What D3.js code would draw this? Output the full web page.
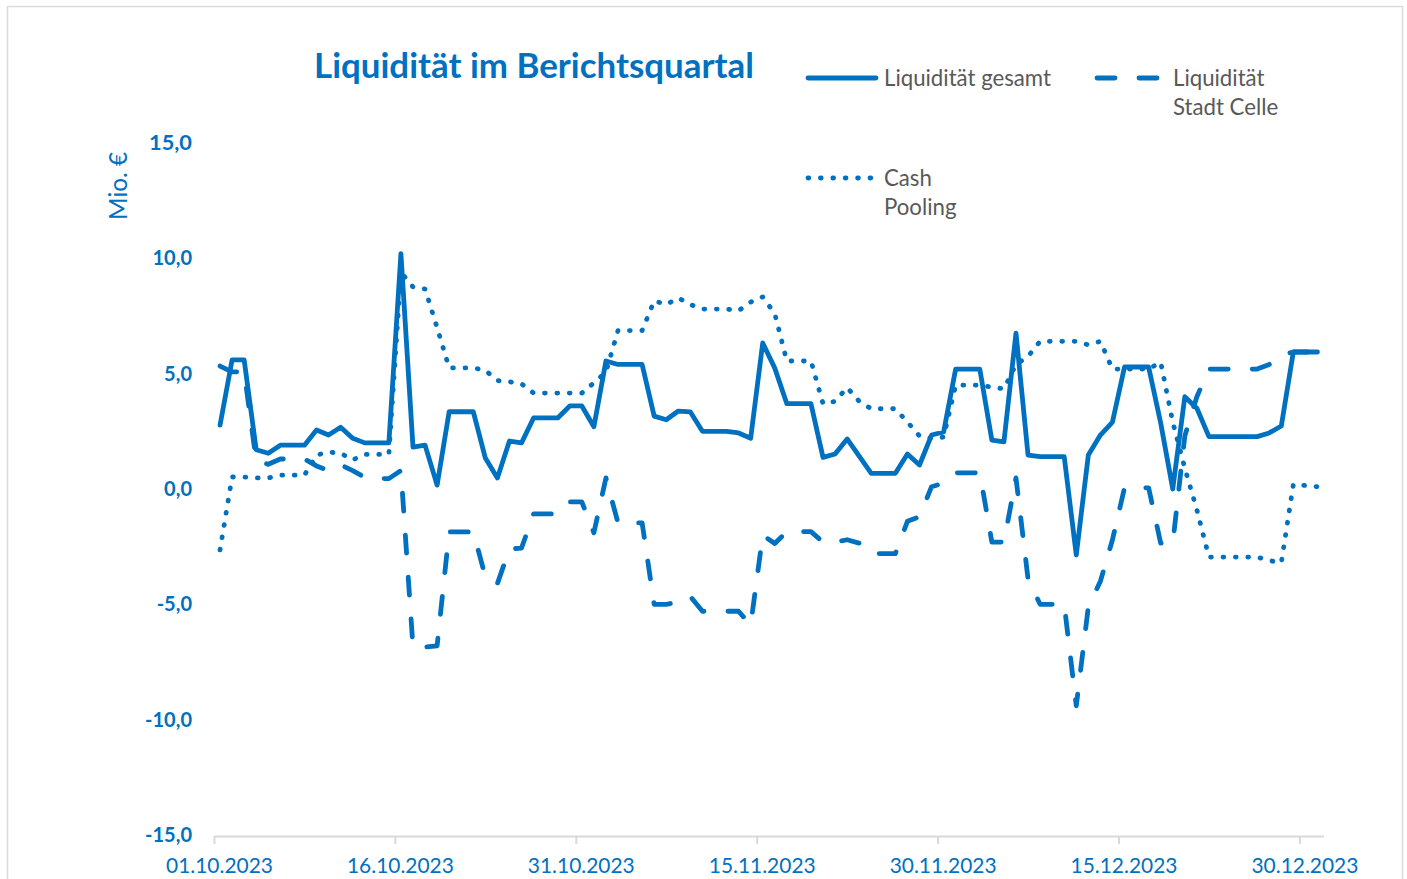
<!DOCTYPE html>
<html><head><meta charset="utf-8">
<script src="https://cdn.jsdelivr.net/npm/d3@7/dist/d3.min.js"></script>
<style>body{margin:0;background:#fff}svg{display:block}</style>
</head><body>
<svg id="chart" width="1407" height="879"></svg>
<script>
// ---------------- data ----------------
const startDate = "2023-10-01";
const endDate = "2024-01-01";
const title = "Liquidität im Berichtsquartal";
const yAxisLabel = "Mio. €";
const yTicks = [-15, -10, -5, 0, 5, 10, 15];
const xTickDates = ["2023-10-01", "2023-10-16", "2023-10-31", "2023-11-15", "2023-11-30", "2023-12-15", "2023-12-30"];
const seriesNames = ["Liquidität gesamt", "Liquidität Stadt Celle", "Cash Pooling"];

// daily values 01.10.2023 .. 31.12.2023 (Mio. €)
const gesamt = [
  2.77, 5.6, 5.6, 1.7, 1.55, 1.9, 1.9, 1.9, 2.56, 2.34,
  2.68, 2.2, 2.0, 2.0, 2.0, 10.2, 1.82, 1.9, 0.17, 3.35,
  3.35, 3.35, 1.34, 0.48, 2.08, 2.0, 3.08, 3.08, 3.08, 3.6,
  3.6, 2.7, 5.55, 5.4, 5.4, 5.4, 3.16, 3.0, 3.38, 3.34,
  2.5, 2.5, 2.5, 2.43, 2.2, 6.33, 5.24, 3.7, 3.7, 3.7,
  1.37, 1.52, 2.17, 1.43, 0.68, 0.68, 0.68, 1.52, 1.04, 2.34,
  2.47, 5.2, 5.2, 5.2, 2.12, 2.04, 6.76, 1.47, 1.4, 1.4,
  1.4, -2.86, 1.47, 2.34, 2.9, 5.29, 5.29, 5.29, 2.86, 0.0,
  4.0, 3.5, 2.27, 2.27, 2.27, 2.27, 2.27, 2.43, 2.73, 5.94,
  5.94, 5.94
];
const stadtCelle = [
  5.33, 5.08, 5.08, 1.22, 1.07, 1.3, 1.3, 1.3, 1.0, 0.8,
  1.05, 0.8, 0.5, 0.45, 0.45, 0.8, -6.85, -6.85, -6.8, -1.86,
  -1.86, -1.86, -3.8, -4.1, -2.6, -2.56, -1.08, -1.08, -1.08, -0.56,
  -0.56, -1.9, 0.48, -1.47, -1.47, -1.47, -5.0, -5.0, -4.9, -4.66,
  -5.3, -5.3, -5.3, -5.3, -5.9, -2.0, -2.36, -1.85, -1.85, -1.85,
  -2.3, -2.3, -2.2, -2.35, -2.8, -2.8, -2.8, -1.4, -1.2, 0.1,
  0.25, 0.7, 0.7, 0.7, -2.3, -2.3, 0.48, -3.9, -5.0, -5.0,
  -5.0, -9.4, -5.1, -4.0, -2.2, 0.05, 0.05, 0.05, -2.35, -2.35,
  2.3, 4.0, 5.2, 5.2, 5.2, 5.2, 5.2, 5.4, 5.8, 5.94,
  5.94, 5.94
];
const cashPooling = [
  -2.64, 0.52, 0.52, 0.48, 0.48, 0.6, 0.6, 0.6, 1.47, 1.6,
  1.55, 1.26, 1.5, 1.5, 1.5, 9.4, 8.76, 8.67, 7.0, 5.25,
  5.25, 5.25, 5.14, 4.7, 4.65, 4.56, 4.16, 4.16, 4.16, 4.16,
  4.16, 4.6, 5.07, 6.87, 6.87, 6.87, 8.16, 8.0, 8.28, 8.0,
  7.8, 7.8, 7.8, 7.73, 8.1, 8.33, 7.6, 5.55, 5.55, 5.55,
  3.7, 3.8, 4.4, 3.8, 3.48, 3.48, 3.48, 2.9, 2.3, 2.2,
  2.25, 4.5, 4.5, 4.5, 4.42, 4.34, 5.4, 5.75, 6.4, 6.4,
  6.4, 6.4, 6.25, 6.4, 5.2, 5.2, 5.2, 5.2, 5.5, 2.9,
  0.9, -0.9, -2.95, -2.95, -2.95, -2.95, -2.95, -3.1, -3.2, 0.2,
  0.15, 0.1
];

// ---------------- layout ----------------
const BLUE = "#0070C0";
const GREY_TEXT = "#595959";
const AXIS_GREY = "#D9D9D9";
const FONT = "Lato, 'Open Sans', sans-serif";
const LW = 4.8;

const svg = d3.select("#chart");
const parse = d3.utcParse("%Y-%m-%d");
const fmtDate = d3.utcFormat("%d.%m.%Y");
const locale = d3.formatLocale({decimal: ",", thousands: ".", grouping: [3], currency: ["", " €"], minus: "-"});
const fmtY = locale.format(".1f");

const plot = {left: 214, right: 1323.5, top: 143, bottom: 835};

const x = d3.scaleUtc().domain([parse(startDate), parse(endDate)]).range([plot.left, plot.right]);
const y = d3.scaleLinear().domain([-15, 15]).range([plot.bottom, plot.top]);

const days = d3.utcDay.range(parse(startDate), parse(endDate));
const mid = d => d3.utcHour.offset(d, 12);

// frame
svg.append("rect").attr("x", 7.5).attr("y", 6.5).attr("width", 1395).attr("height", 900)
  .attr("fill", "#fff").attr("stroke", AXIS_GREY).attr("stroke-width", 1.5);

function fitGroup(sel, targetWidth) {
  const n = sel.nodes()[0];
  const fs = parseFloat(d3.select(n).attr("font-size"));
  const w = n.getComputedTextLength();
  sel.attr("font-size", fs * targetWidth / w);
}

// x axis
const xAxis = d3.axisBottom(x)
  .tickValues(xTickDates.map(parse))
  .tickFormat(fmtDate)
  .tickSize(8).tickSizeOuter(0).tickPadding(10);
const gx = svg.append("g").attr("transform", `translate(0,${y(-15) + 1})`).call(xAxis);
gx.select(".domain").attr("stroke", AXIS_GREY).attr("stroke-width", 2);
gx.selectAll(".tick line").attr("stroke", AXIS_GREY).attr("stroke-width", 2);
const xLabels = gx.selectAll(".tick text")
  .attr("fill", BLUE).attr("font-family", FONT).attr("font-size", 20)
  .attr("dx", 5).attr("dy", "0.71em");
fitGroup(xLabels, 107);
xLabels.attr("y", 22);

// y axis (labels only)
const yAxis = d3.axisLeft(y).tickValues(yTicks).tickFormat(fmtY).tickSize(0).tickPadding(22);
const gy = svg.append("g").attr("transform", `translate(${plot.left},0)`).call(yAxis);
gy.select(".domain").remove();
const yLabels = gy.selectAll(".tick text")
  .attr("fill", BLUE).attr("font-family", FONT).attr("font-weight", "bold").attr("font-size", 20);
fitGroup(yLabels.filter(d => d === 15), 43);

// y axis title
const yt = svg.append("text").text(yAxisLabel)
  .attr("transform", "translate(127,186) rotate(-90)")
  .attr("text-anchor", "middle").attr("fill", BLUE).attr("font-family", FONT).attr("font-size", 21);
fitGroup(yt, 68);

// title
const tt = svg.append("text").text(title)
  .attr("x", 314).attr("y", 78).attr("fill", BLUE).attr("font-family", FONT)
  .attr("font-weight", "bold").attr("font-size", 32);
fitGroup(tt, 440);

// series
const series = [
  {name: seriesNames[0], values: gesamt, dash: null},
  {name: seriesNames[1], values: stadtCelle, dash: "18,24"},
  {name: seriesNames[2], values: cashPooling, dash: "0.8,11.6"}
];
const line = d3.line().x(d => x(mid(d.date))).y(d => y(d.v));
series.forEach(s => {
  svg.append("path")
    .datum(days.map((d, i) => ({date: d, v: s.values[i]})))
    .attr("d", line)
    .attr("fill", "none").attr("stroke", BLUE).attr("stroke-width", LW)
    .attr("stroke-linejoin", "round").attr("stroke-linecap", "round")
    .attr("stroke-dasharray", s.dash);
});

// legend
const legendItems = [
  {x: 808, y: 78, lines: ["Liquidität gesamt"], dash: null},
  {x: 1097, y: 78, lines: ["Liquidität", "Stadt Celle"], dash: "18,24"},
  {x: 808, y: 178, lines: ["Cash", "Pooling"], dash: "0.8,11.6"}
];
const legendTexts = [];
legendItems.forEach(it => {
  svg.append("line").attr("x1", it.x).attr("x2", it.x + 68).attr("y1", it.y).attr("y2", it.y)
    .attr("stroke", BLUE).attr("stroke-width", LW).attr("stroke-linecap", "round")
    .attr("stroke-dasharray", it.dash);
  it.lines.forEach((t, j) => {
    legendTexts.push(svg.append("text").text(t)
      .attr("x", it.x + 76).attr("y", it.y + j * 29).attr("dy", "0.35em")
      .attr("fill", GREY_TEXT).attr("font-family", FONT).attr("font-size", 20).node());
  });
});
const lt = d3.selectAll(legendTexts);
fitGroup(lt, 167);
</script>
</body></html>
